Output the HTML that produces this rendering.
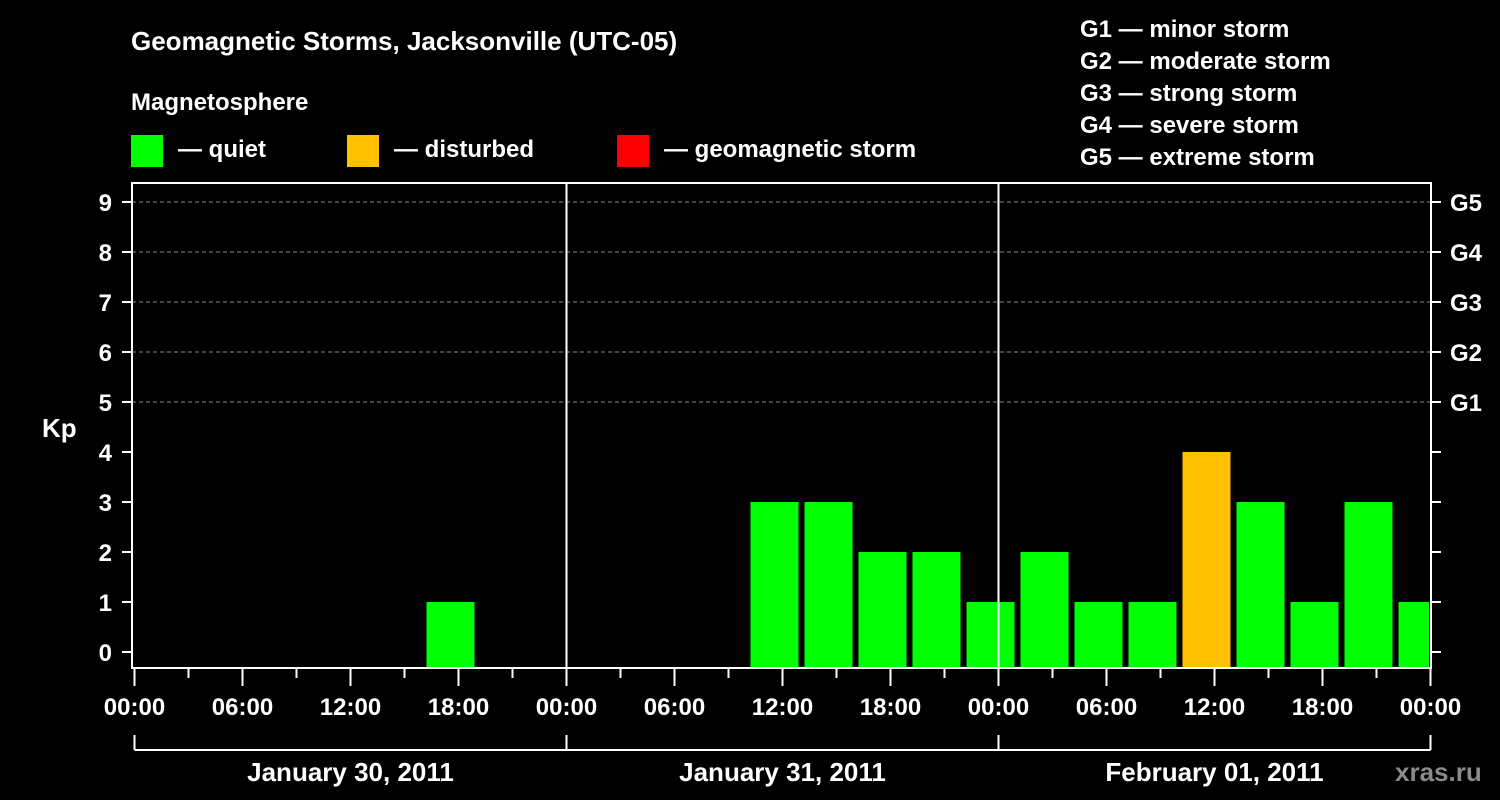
<!DOCTYPE html>
<html><head><meta charset="utf-8"><style>
html,body{margin:0;padding:0;background:#000;width:1500px;height:800px;overflow:hidden}
svg text{font-family:"Liberation Sans",Arial,sans-serif;font-weight:bold;fill:#fff}
</style></head><body>
<svg id="chart" width="1500" height="800" viewBox="0 0 1500 800" xmlns="http://www.w3.org/2000/svg">
<text x="131" y="50" font-size="26">Geomagnetic Storms, Jacksonville (UTC-05)</text>
<text x="131" y="110" font-size="24">Magnetosphere</text>
<g><rect x="131" y="135" width="32" height="32" fill="#00ff00"/><text x="178" y="157" font-size="24">— quiet</text></g>
<g><rect x="347" y="135" width="32" height="32" fill="#ffc000"/><text x="394" y="157" font-size="24">— disturbed</text></g>
<g><rect x="617" y="135" width="32" height="32" fill="#ff0000"/><text x="664" y="157" font-size="24">— geomagnetic storm</text></g>
<g font-size="24">
<text x="1080" y="37">G1 — minor storm</text>
<text x="1080" y="69">G2 — moderate storm</text>
<text x="1080" y="101">G3 — strong storm</text>
<text x="1080" y="133">G4 — severe storm</text>
<text x="1080" y="165">G5 — extreme storm</text>
</g>
<text x="42" y="437" font-size="26">Kp</text>
<g id="grid"></g><g id="bars"></g><g id="axes"></g>
<text x="1395" y="781" font-size="26" fill="#888" style="fill:#8a8a8a">xras.ru</text>
</svg>
<script>
const kpHours = [16, 34, 37, 40, 43, 46, 49, 52, 55, 58, 61, 64, 67, 70];
const kpValues = [1, 3, 3, 2, 2, 1, 2, 1, 1, 4, 3, 1, 3, 1];
const yTicks = [0,1,2,3,4,5,6,7,8,9];
const gLabels = ["G1","G2","G3","G4","G5"];
const dayLabels = ["January 30, 2011","January 31, 2011","February 01, 2011"];
const hourLabels = ["00:00","06:00","12:00","18:00"];

const NS="http://www.w3.org/2000/svg";
const X0=134.5, PXH=18, LEFT=132, RIGHT=1431, TOP=183, BOTTOM=668;
const xs=h=>X0+h*PXH;
const ys=v=>652-v*50;
function mk(parent,tag,attrs){const e=document.createElementNS(NS,tag);for(const k in attrs)e.setAttribute(k,attrs[k]);parent.appendChild(e);return e;}
const grid=document.getElementById('grid'),bars=document.getElementById('bars'),axes=document.getElementById('axes');

for(let v=5;v<=9;v++){
  const l=mk(grid,'line',{x1:LEFT,x2:RIGHT,y1:ys(v),y2:ys(v),stroke:'#888','stroke-width':1,'stroke-dasharray':'4,3'});
  
  
}
kpHours.forEach((h,i)=>{
  const v=kpValues[i];
  const x=xs(h)+4, w=Math.min(48,RIGHT-2-x);
  const c=v>=5?'#ff0000':(v>=4?'#ffc000':'#00ff00');
  const r=mk(bars,'rect',{x:x,y:ys(v),width:w,height:BOTTOM-ys(v),fill:c});
  
  
});
// frame
const fr=mk(axes,'rect',{x:LEFT,y:TOP,width:RIGHT-LEFT,height:BOTTOM-TOP,fill:'none',stroke:'#fff','stroke-width':2});


for(let d=1;d<3;d++){
  const l=mk(axes,'line',{x1:xs(d*24),x2:xs(d*24),y1:TOP,y2:BOTTOM,stroke:'#fff','stroke-width':2});
  
  
}
yTicks.forEach(v=>{
  mk(axes,'line',{x1:122,x2:LEFT,y1:ys(v),y2:ys(v),stroke:'#fff','stroke-width':2});
  mk(axes,'line',{x1:RIGHT,x2:RIGHT+10,y1:ys(v),y2:ys(v),stroke:'#fff','stroke-width':2});
  const t=mk(axes,'text',{x:112,y:ys(v)+9,'font-size':24,'text-anchor':'end'});
  t.textContent=v;
  
  
});
gLabels.forEach((g,i)=>{
  const t=mk(axes,'text',{x:1450,y:ys(5+i)+9,'font-size':24});
  t.textContent=g;
  
  
});
for(let h=0;h<=72;h+=3){
  const major=h%6===0;
  mk(axes,'line',{x1:xs(h),x2:xs(h),y1:BOTTOM,y2:major?686:678,stroke:'#fff','stroke-width':2});
  if(major){
    const t=mk(axes,'text',{x:xs(h),y:715,'font-size':24,'text-anchor':'middle'});
    t.textContent=hourLabels[(h%24)/6];
    
    
  }
}
mk(axes,'line',{x1:xs(0),x2:xs(72),y1:750,y2:750,stroke:'#fff','stroke-width':2});
for(let d=0;d<=3;d++) mk(axes,'line',{x1:xs(d*24),x2:xs(d*24),y1:735,y2:750,stroke:'#fff','stroke-width':2});
dayLabels.forEach((s,d)=>{
  const t=mk(axes,'text',{x:xs(d*24+12),y:781,'font-size':26,'text-anchor':'middle'});
  t.textContent=s;
  
  
});
</script>
</body></html>
